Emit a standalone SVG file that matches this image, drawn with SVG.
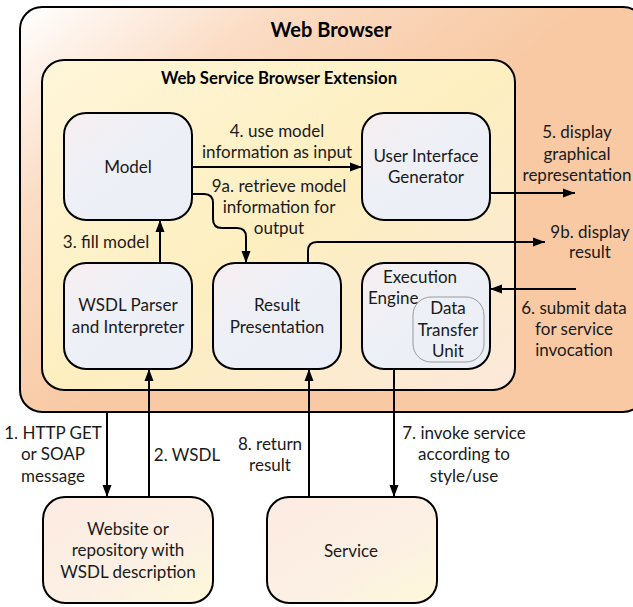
<svg xmlns="http://www.w3.org/2000/svg" width="633" height="607" viewBox="0 0 633 607">
<defs>
<linearGradient id="gOuter" x1="0" y1="0" x2="0.55" y2="0.45">
<stop offset="0" stop-color="#FFFFFF"/>
<stop offset="0.45" stop-color="#FBDCC4"/>
<stop offset="1" stop-color="#F8C9A3"/>
</linearGradient>
<linearGradient id="gInner" x1="0" y1="0" x2="1" y2="1">
<stop offset="0" stop-color="#FFF6DA"/>
<stop offset="0.5" stop-color="#FDEFC0"/>
<stop offset="1" stop-color="#FCE8DA"/>
</linearGradient>
<linearGradient id="gNode" x1="0" y1="0" x2="1" y2="1">
<stop offset="0" stop-color="#F7EEF0"/>
<stop offset="0.4" stop-color="#EEF0F6"/>
<stop offset="1" stop-color="#EBEEF6"/>
</linearGradient>
<linearGradient id="gExt" x1="0" y1="0" x2="1" y2="1">
<stop offset="0" stop-color="#FCEBE2"/>
<stop offset="0.6" stop-color="#FCF0E4"/>
<stop offset="1" stop-color="#FEF8D8"/>
</linearGradient>
<marker id="arr" markerUnits="userSpaceOnUse" markerWidth="12" markerHeight="10" refX="12" refY="5" orient="auto">
<path d="M0,0.5 L12,5 L0,9.5 z" fill="#000"/>
</marker>
</defs>
<style>
.t{font-family:Lato,"Liberation Sans",sans-serif;font-size:17px;fill:#1a1a1a;text-anchor:middle}
.b{font-family:Lato,"Liberation Sans",sans-serif;font-weight:bold;fill:#000;text-anchor:middle}
.box{stroke:#000;stroke-width:2}
.c{fill:none;stroke:#000;stroke-width:2}
</style>
<g id="web-browser">
<rect class="box" x="20" y="7" width="625" height="405" rx="22" fill="url(#gOuter)"/>
<text class="b" x="331" y="37" font-size="20">Web Browser</text>
</g>
<g id="extension">
<rect class="box" x="42" y="60" width="473" height="330" rx="22" fill="url(#gInner)"/>
<text class="b" x="279" y="84" font-size="16.7">Web Service Browser Extension</text>
</g>
<g id="model">
<rect class="box" x="64" y="113" width="128" height="107" rx="22" fill="url(#gNode)"/>
<text class="t" x="128" y="173">Model</text>
</g>
<g id="ui-generator">
<rect class="box" x="362" y="113" width="128" height="107" rx="22" fill="url(#gNode)"/>
<text class="t" x="426" y="162">User Interface</text>
<text class="t" x="426" y="183">Generator</text>
</g>
<g id="wsdl-parser">
<rect class="box" x="64" y="263" width="128" height="106" rx="22" fill="url(#gNode)"/>
<text class="t" x="128" y="311">WSDL Parser</text>
<text class="t" x="128" y="333">and Interpreter</text>
</g>
<g id="result-presentation">
<rect class="box" x="213" y="263" width="128" height="106" rx="22" fill="url(#gNode)"/>
<text class="t" x="277" y="311">Result</text>
<text class="t" x="277" y="333">Presentation</text>
</g>
<g id="execution-engine">
<rect class="box" x="362" y="263" width="128" height="106" rx="22" fill="url(#gNode)"/>
<text class="t" x="420" y="283">Execution</text>
<text class="t" x="368" y="304" style="text-anchor:start">Engine</text>
<g id="data-transfer-unit">
<rect x="413" y="297" width="71" height="65" rx="18" fill="none" stroke="#9a9a9a" stroke-width="1"/>
<text class="t" x="448" y="314">Data</text>
<text class="t" x="448" y="336">Transfer</text>
<text class="t" x="448" y="357">Unit</text>
</g>
</g>
<g id="website">
<rect class="box" x="43" y="497" width="170" height="106" rx="22" fill="url(#gExt)"/>
<text class="t" x="128" y="535">Website or</text>
<text class="t" x="128" y="556">repository with</text>
<text class="t" x="128" y="578">WSDL description</text>
</g>
<g id="service">
<rect class="box" x="267" y="497" width="170" height="106" rx="22" fill="url(#gExt)"/>
<text class="t" x="351" y="557">Service</text>
</g>
<g id="connectors">
<path class="c" d="M192,167 H362" marker-end="url(#arr)"/>
<path class="c" d="M192,194 H204 Q213,194 213,203 V219 Q213,228 222,228 H237 Q246,228 246,237 V263" marker-end="url(#arr)"/>
<path class="c" d="M308,263 V251 Q308,242 317,242 H545" marker-end="url(#arr)"/>
<path class="c" d="M490,193 H575" marker-end="url(#arr)"/>
<path class="c" d="M576,289 H490" marker-end="url(#arr)"/>
<path class="c" d="M160,263 V220" marker-end="url(#arr)"/>
<path class="c" d="M107,412 V497" marker-end="url(#arr)"/>
<path class="c" d="M149,497 V369" marker-end="url(#arr)"/>
<path class="c" d="M309,497 V369" marker-end="url(#arr)"/>
<path class="c" d="M394,369 V497" marker-end="url(#arr)"/>
<text class="t" x="277" y="137">4. use model</text>
<text class="t" x="277" y="158">information as input</text>
<text class="t" x="279" y="192">9a. retrieve model</text>
<text class="t" x="279" y="213">information for</text>
<text class="t" x="279" y="234">output</text>
<text class="t" x="577" y="138">5. display</text>
<text class="t" x="577" y="160">graphical</text>
<text class="t" x="577" y="181">representation</text>
<text class="t" x="590" y="238">9b. display</text>
<text class="t" x="590" y="258">result</text>
<text class="t" x="574" y="314">6. submit data</text>
<text class="t" x="574" y="335">for service</text>
<text class="t" x="574" y="356">invocation</text>
<text class="t" x="106" y="248">3. fill model</text>
<text class="t" x="53" y="439">1. HTTP GET</text>
<text class="t" x="53" y="460">or SOAP</text>
<text class="t" x="53" y="482">message</text>
<text class="t" x="187" y="461">2. WSDL</text>
<text class="t" x="270" y="450">8. return</text>
<text class="t" x="270" y="471">result</text>
<text class="t" x="464" y="439">7. invoke service</text>
<text class="t" x="464" y="460">according to</text>
<text class="t" x="464" y="482">style/use</text>
</g>
</svg>
